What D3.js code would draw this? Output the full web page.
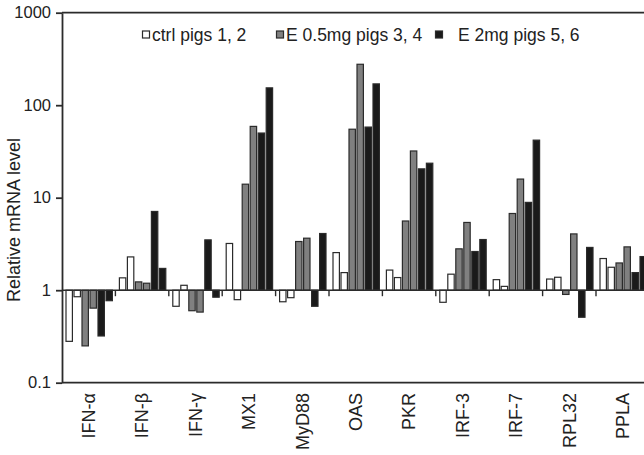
<!DOCTYPE html>
<html><head><meta charset="utf-8">
<script src="https://cdn.jsdelivr.net/npm/d3@7"></script>
<style>
html,body{margin:0;padding:0;background:#fff;overflow:hidden}
svg text{font-family:"Liberation Sans",Arial,sans-serif;fill:#222}
</style></head>
<body><svg id="c" width="644" height="455"></svg>
<script>
const categories = ["IFN-α","IFN-β","IFN-γ","MX1","MyD88","OAS","PKR","IRF-3","IRF-7","RPL32","PPLA"];
const pig1 = [0.28,1.36,0.67,3.2,0.75,2.55,1.65,0.74,1.3,1.32,2.2];
const pig2 = [0.85,2.29,1.13,0.79,0.83,1.55,1.37,1.49,1.1,1.38,1.77];
const pig3 = [0.25,1.23,0.60,14,3.36,55,5.6,2.8,6.75,0.90,1.97];
const pig4 = [0.64,1.19,0.58,59,3.65,277,32,5.4,15.9,4.06,2.94];
const pig5 = [0.32,7.1,3.5,50,0.67,58,20.5,2.62,8.9,0.51,1.55];
const pig6 = [0.77,1.72,0.84,154,4.1,170,23.6,3.53,41.9,2.9,2.31];
const pigNames = ["pig1","pig2","pig3","pig4","pig5","pig6"];
const pigSeries = [pig1,pig2,pig3,pig4,pig5,pig6];
const legendLabels = ["ctrl pigs 1, 2","E 0.5mg pigs 3, 4","E 2mg pigs 5, 6"];
const yTicks = [0.1,1,10,100,1000];
const colors = ["#ffffff","#ffffff","#808080","#808080","#1a1a1a","#1a1a1a"];
const legendColors = ["#ffffff","#808080","#1a1a1a"];

const svg = d3.select("#c");
const mLeft = 62, mTop = 12.7, mBottom = 382.7, groupW = 53.4;
const x = d3.scaleBand().domain(categories).range([mLeft, mLeft + groupW*categories.length]).padding(0);
const xi = d3.scaleBand().domain(pigNames).range([3.2, 51.2]).paddingInner(0.2).paddingOuter(0.1);
const y = d3.scaleLog().domain([0.1,1000]).range([mBottom, mTop]);
const base = y(1);
const ink = "#2b2b2b";

// bars
categories.forEach((c,ci)=>{
  pigSeries.forEach((s,si)=>{
    const v = s[ci];
    const y0 = y(Math.max(v,1)), y1 = y(Math.min(v,1));
    svg.append("rect")
      .attr("x", x(c)+xi(pigNames[si]))
      .attr("y", y0)
      .attr("width", xi.bandwidth())
      .attr("height", Math.max(0.5, y1-y0))
      .attr("fill", colors[si])
      .attr("stroke", ink).attr("stroke-width", 1.2);
  });
});

// baseline and group ticks
svg.append("line").attr("x1",mLeft).attr("x2",644).attr("y1",base).attr("y2",base)
  .attr("stroke",ink).attr("stroke-width",1.5);
categories.forEach((c,ci)=>{
  if(ci===0) return;
  svg.append("line").attr("x1",x(c)).attr("x2",x(c)).attr("y1",base).attr("y2",base+6)
    .attr("stroke",ink).attr("stroke-width",1.4);
});

// y axis
const ya = svg.append("g").attr("transform",`translate(${mLeft},0)`)
  .call(d3.axisLeft(y).tickValues(yTicks).tickFormat(d=>String(d)).tickSize(6).tickSizeOuter(0).tickPadding(5));
ya.select(".domain").attr("stroke",ink).attr("stroke-width",1.8);
ya.selectAll(".tick line").attr("stroke",ink).attr("stroke-width",1.8);
ya.selectAll(".tick text").attr("font-size",16.5).attr("fill","#222").attr("font-family","Liberation Sans, Arial, sans-serif");

// top and bottom frame lines
svg.append("line").attr("x1",mLeft).attr("x2",644).attr("y1",mTop).attr("y2",mTop).attr("stroke",ink).attr("stroke-width",1.8);
svg.append("line").attr("x1",mLeft).attr("x2",644).attr("y1",mBottom).attr("y2",mBottom).attr("stroke",ink).attr("stroke-width",1.8);

// x labels
categories.forEach(c=>{
  const cx = x(c)+x.bandwidth()/2;
  svg.append("text").attr("transform",`translate(${cx},393) rotate(-90)`)
    .attr("text-anchor","end").attr("dy","0.35em").attr("font-size",18).text(c);
});

// y label
svg.append("text").attr("transform","translate(14,220) rotate(-90)")
  .attr("text-anchor","middle").attr("dy","0.35em").attr("font-size",18).text("Relative mRNA level");

// legend
const legX = [142, 276, 435];
legendLabels.forEach((l,i)=>{
  svg.append("rect").attr("x",legX[i]+0.5).attr("y",31).attr("width",7).attr("height",7)
    .attr("fill",legendColors[i]).attr("stroke",ink).attr("stroke-width",1.2);
  svg.append("text").attr("x",legX[i]+ (i===2?23:10)).attr("y",41).attr("font-size",17.5).text(l);
});
</script></body></html>
